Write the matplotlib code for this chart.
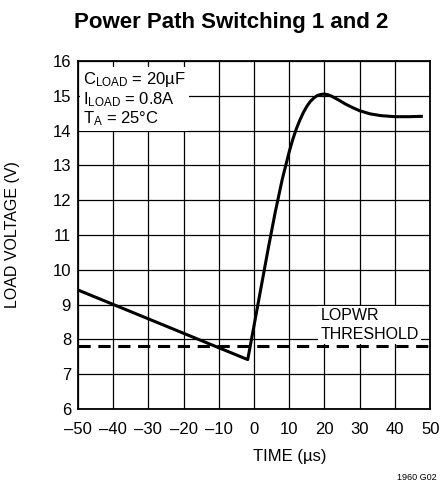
import matplotlib.pyplot as plt

plt.rcParams['font.family'] = ['Liberation Sans', 'DejaVu Sans']

# curve
time_us = [-50, -1.8, 0, 2, 4, 6, 8, 10, 11, 12, 13, 14, 15, 16, 17, 18, 19, 20, 21, 22, 24, 26, 28,
           30, 33, 36, 40, 44, 47.5]
load_v = [9.42, 7.42, 8.4, 9.5, 10.6, 11.65, 12.6, 13.4, 13.75, 14.05, 14.3, 14.52, 14.7, 14.84,
          14.94, 15.01, 15.04, 15.05, 15.03, 14.99, 14.88, 14.76, 14.66, 14.57, 14.48, 14.43,
          14.4, 14.4, 14.41]
threshold_v = 7.8

x_ticks = [-50, -40, -30, -20, -10, 0, 10, 20, 30, 40, 50]
y_ticks = list(range(6, 17))

fig = plt.figure(figsize=(4.43, 4.90), dpi=100)
ax = fig.add_axes([0.176, 0.1653, 0.795, 0.7102])

ax.set_xlim(-50, 50)
ax.set_ylim(6, 16)
ax.set_xticks(x_ticks)
ax.set_yticks(y_ticks)
ax.set_xticklabels([str(t).replace('-', '\u2013') for t in x_ticks], fontsize=12)
ax.set_yticklabels([str(t) for t in y_ticks], fontsize=12)
ax.tick_params(length=0)
ax.tick_params(axis='x', pad=9)
ax.tick_params(axis='y', pad=5)
ax.grid(True, color='black', linewidth=0.9)
for s in ax.spines.values():
    s.set_linewidth(1.3)

ax.plot([-50, 50], [threshold_v, threshold_v], color='black', linewidth=2.2,
        dashes=(4, 2.5), zorder=3)
ax.plot(time_us, load_v, color='black', linewidth=2.2, solid_joinstyle='round', zorder=4)

ax.text(-48.5, 15.73, '$\\mathregular{C_{LOAD}}$ = 20\u00b5F\n$\\mathregular{I_{LOAD}}$ = 0.8A\n$\\mathregular{T_A}$ = 25\u00b0C',
        fontsize=12, va='top', ha='left', linespacing=1.05, zorder=5,
        bbox=dict(facecolor='white', edgecolor='none', pad=2))
ax.text(18.8, 7.93, 'LOPWR\nTHRESHOLD', fontsize=11.5, va='bottom', ha='left',
        linespacing=1.3, zorder=5,
        bbox=dict(facecolor='white', edgecolor='none', pad=1.5))

ax.set_xlabel('TIME (\u00b5s)', fontsize=12)
ax.xaxis.set_label_coords(0.6, -0.115)
ax.set_ylabel('LOAD VOLTAGE (V)', fontsize=11.5)
ax.yaxis.set_label_coords(-0.165, 0.5)
fig.text(0.522, 0.955, 'Power Path Switching 1 and 2', fontsize=16, fontweight='bold',
         ha='center', va='center')
fig.text(0.985, 0.025, '1960 G02', fontsize=6.5, ha='right', va='center')

fig.savefig('out.png', dpi=100)
